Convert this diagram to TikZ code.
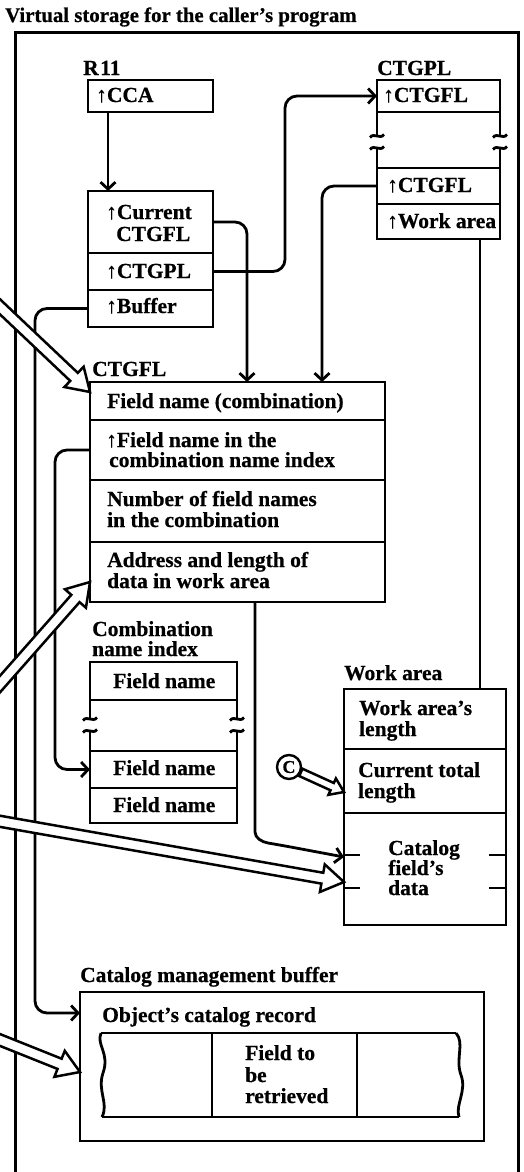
\documentclass[tikz,border=0pt]{standalone}
\usepackage{fontspec}
\setmainfont{Liberation Serif}[BoldFeatures={FakeBold=0.6}]
\usetikzlibrary{calc,arrows.meta}

\newcommand\labfont{\fontsize{21.5}{21}\selectfont\bfseries}

% hollow (outlined, white filled) arrow: #1 start, #2 tip,
% #3 half shaft width, #4 half head width, #5 head length
\newcommand\hollowarrow[5]{%
  \coordinate (ha-base) at ($(#2)!#5!(#1)$);
  \draw[hollow] ($(#1)!#3!90:(#2)$) -- ($(ha-base)!#3!90:(#2)$)
    -- ($(ha-base)!#4!90:(#2)$) -- (#2) -- ($(ha-base)!#4!-90:(#2)$)
    -- ($(ha-base)!#3!-90:(#2)$) -- ($(#1)!#3!-90:(#2)$) -- cycle;}

% break mark on the side of a cut-off structure
\newcommand\gapmark[1]{%
  \draw[cellline] ($(#1)+(-7,1.5)$) .. controls ($(#1)+(-3,-4)$) and ($(#1)+(3,4)$) .. ($(#1)+(7,-1.5)$);}

\begin{document}
\begin{tikzpicture}[x=1pt,y=-1pt,
  frame/.style={line width=3pt},
  cellline/.style={line width=2.8pt},
  cell/.style={draw, line width=2.8pt, anchor=north west, inner sep=0pt, outer sep=0pt},
  link/.style={line width=2.8pt, rounded corners=12pt, -{Straight Barb[length=7pt,width=15pt]}},
  plain/.style={line width=2.8pt},
  hollow/.style={draw, fill=white, line width=2.5pt, line join=miter},
  lab/.style={anchor=base west, inner sep=0pt, font=\labfont}]

\useasboundingbox (0,0) rectangle (524,1172);
\clip (0,0) rectangle (524,1172);

% storage frame (open at the bottom)
\draw[frame] (15,1185) |- (518,33) -- (518,1185);
\node[lab, font=\fontsize{20.8}{21}\selectfont\bfseries] (t-title) at (5,22) {Virtual storage for the caller’s program};

% R11 and the CCA
\node[lab] (t-r11) at (83,75) {R\kern1.5pt11};
\node[cell, minimum width=125pt, minimum height=32pt] (cca) at (88,80) {};
\node[lab] (t-cca) at (96,102) {↑CCA};

\node[cell, minimum width=125pt, minimum height=62pt] (cur) at (88,191) {};
\node[cell, minimum width=125pt, minimum height=37pt] (cpl) at (88,253) {};
\node[cell, minimum width=125pt, minimum height=37pt] (buf) at (88,290) {};
\node[lab] (t-cur1) at (106,219) {↑Current};
\node[lab] (t-cur2) at (116,241) {CTGFL};
\node[lab] (t-cpl) at (106,278) {↑CTGPL};
\node[lab] (t-buf) at (106,313) {↑Buffer};

% CTGPL
\node[lab] (t-ctgpl) at (377,75) {CTGPL};
\node[cell, minimum width=123pt, minimum height=32pt] (gpl1) at (377,80) {};
\node[cell, minimum width=123pt, minimum height=36pt] (gpl2) at (377,168) {};
\node[cell, minimum width=123pt, minimum height=35pt] (gpl3) at (377,204) {};
\draw[cellline] (gpl1.south west) -- ++(0,24);
\draw[cellline] (gpl1.south east) -- ++(0,24);
\draw[cellline] (gpl2.north west) -- ++(0,-20);
\draw[cellline] (gpl2.north east) -- ++(0,-20);
\gapmark{$(gpl1.south west)+(0,24)$}
\gapmark{$(gpl1.south east)+(0,24)$}
\gapmark{$(gpl2.north west)+(0,-20)$}
\gapmark{$(gpl2.north east)+(0,-20)$}
\node[lab] (t-gpl1) at (383,102) {↑CTGFL};
\node[lab] (t-gpl2) at (387,192) {↑CTGFL};
\node[lab] (t-gpl3) at (387,228) {↑Work area};

% CTGFL
\node[lab] (t-ctgfl) at (92,376) {CTGFL};
\node[cell, minimum width=295pt, minimum height=38pt] (f1) at (90,382) {};
\node[cell, minimum width=295pt, minimum height=60pt] (f2) at (90,420) {};
\node[cell, minimum width=295pt, minimum height=62pt] (f3) at (90,480) {};
\node[cell, minimum width=295pt, minimum height=60pt] (f4) at (90,542) {};
\node[lab] (t-f1) at (107,408) {Field name (combination)};
\node[lab] (t-f2a) at (106,447) {↑Field name in the};
\node[lab] (t-f2b) at (109,467) {combination name index};
\node[lab] (t-f3a) at (107,506) {Number of field names};
\node[lab] (t-f3b) at (107,527) {in the combination};
\node[lab] (t-f4a) at (107,567) {Address and length of};
\node[lab] (t-f4b) at (107,588) {data in work area};

% combination name index
\node[lab] (t-ci1) at (92,636) {Combination};
\node[lab] (t-ci2) at (92,656) {name index};
\node[cell, minimum width=147pt, minimum height=38pt] (ci1) at (90,662) {};
\node[cell, minimum width=147pt, minimum height=37pt] (ci2) at (90,751) {};
\node[cell, minimum width=147pt, minimum height=35pt] (ci3) at (90,788) {};
\draw[cellline] (ci1.south west) -- ++(0,19);
\draw[cellline] (ci1.south east) -- ++(0,19);
\draw[cellline] (ci2.north west) -- ++(0,-20);
\draw[cellline] (ci2.north east) -- ++(0,-20);
\gapmark{$(ci1.south west)+(0,19)$}
\gapmark{$(ci1.south east)+(0,19)$}
\gapmark{$(ci2.north west)+(0,-20)$}
\gapmark{$(ci2.north east)+(0,-20)$}
\node[lab] (t-cf1) at (113,688) {Field name};
\node[lab] (t-cf2) at (113,775) {Field name};
\node[lab] (t-cf3) at (113,812) {Field name};

% work area
\node[lab] (t-wa) at (344,680) {Work area};
\node[cell, minimum width=162pt, minimum height=60pt] (w1) at (344,689) {};
\node[cell, minimum width=162pt, minimum height=64pt] (w2) at (344,749) {};
\node[cell, minimum width=162pt, minimum height=112pt] (w3) at (344,813) {};
\draw[cellline] ($(w3.north west)+(0,42)$) -- ++(16,0);
\draw[cellline] ($(w3.north west)+(0,75)$) -- ++(16,0);
\draw[cellline] ($(w3.north east)+(0,42)$) -- ++(-17,0);
\draw[cellline] ($(w3.north east)+(0,75)$) -- ++(-17,0);
\node[lab] (t-w1a) at (359,715) {Work area’s};
\node[lab] (t-w1b) at (359,736) {length};
\node[lab] (t-w2a) at (358,777) {Current total};
\node[lab] (t-w2b) at (358,798) {length};
\node[lab] (t-w3a) at (388,855) {Catalog};
\node[lab] (t-w3b) at (388,875) {field’s};
\node[lab] (t-w3c) at (388,895) {data};

% catalog management buffer
\node[lab] (t-cmb) at (80,982) {Catalog management buffer};
\node[cell, minimum width=404pt, minimum height=149pt] (cmb) at (80,992) {};
\node[lab] (t-rec) at (102,1022) {Object’s catalog record};
\coordinate (rec) at ($(cmb.north west)+(23,41)$);
\begin{scope}[shift={(rec)}]
  \draw[cellline] (-2,0) -- (353,0);
  \draw[cellline] (-1,84) -- (356,84);
  \draw[cellline] (-2,0) .. controls (-7,12) and (7,20) .. (0,40)
                        .. controls (-6,58) and (6,70) .. (-1,84);
  \draw[cellline] (353,0) .. controls (362,10) and (352,26) .. (358,42)
                        .. controls (364,58) and (352,72) .. (356,84);
  \draw[cellline] (109,0) -- (109,84);
  \draw[cellline] (254,0) -- (254,84);
\end{scope}
\node[lab] (t-fr1) at (245,1060) {Field to};
\node[lab] (t-fr2) at (245,1082) {be};
\node[lab] (t-fr3) at (245,1103) {retrieved};

% pointers
\draw[link] ($(cca.south west)+(20,0)$) -- ($(cur.north west)+(20,0)$);
\draw[link] (cur.east) -| ($(f1.north west)+(157,0)$);
\draw[link] (cpl.east) -| ($(gpl1.west)+(-92,0)$) -- (gpl1.west);
\draw[link] (gpl2.west) -| ($(f1.north west)+(232,0)$);
\draw[plain] ($(gpl3.south west)+(103,0)$) -- ($(w1.north west)+(136,0)$);
\draw[link] (buf.west) -| ($(cmb.north west)+(-45,21)$) -- ($(cmb.north west)+(0,21)$);
\draw[link] (f2.west) -| ($(ci2.west)+(-35,0)$) -- (ci2.west);
\draw[link] ($(f4.south west)+(165,0)$) -- ($(f4.south west)+(165,218)$)
  .. controls ($(f4.south west)+(165,236)$) and ($(f4.south west)+(172,240)$)
  .. ($(f4.south west)+(190,243)$) -- ($(w3.north west)+(0,44)$);

% register usage arrows entering from outside
\coordinate (in1) at (-22,286);   \coordinate (tip1) at ($(f1.north west)+(0,10)$);
\coordinate (in2) at (-22,709);   \coordinate (tip2) at ($(f4.north west)+(0,40)$);
\coordinate (in3) at (-30,816);   \coordinate (tip3) at ($(w3.north west)+(0,69)$);
\coordinate (in4) at (-30,1028);  \coordinate (tip4) at ($(cmb.north west)+(0,80)$);
\hollowarrow{in1}{tip1}{5.5pt}{14pt}{22pt}
\hollowarrow{in2}{tip2}{5.5pt}{14pt}{22pt}
\hollowarrow{in3}{tip3}{5.5pt}{14pt}{22pt}
\hollowarrow{in4}{tip4}{5.5pt}{14pt}{22pt}

% circled C
\node[circle, draw, line width=2.4pt, minimum size=24pt, inner sep=0pt,
      font=\fontsize{18}{18}\selectfont\bfseries] (cc) at (289,767) {C};
\coordinate (tipc) at ($(w2.north west)+(0,43)$);
\coordinate (outc) at ($(cc)!13pt!(tipc)$);
\hollowarrow{outc}{tipc}{4pt}{9pt}{13pt}
\end{tikzpicture}
\end{document}
